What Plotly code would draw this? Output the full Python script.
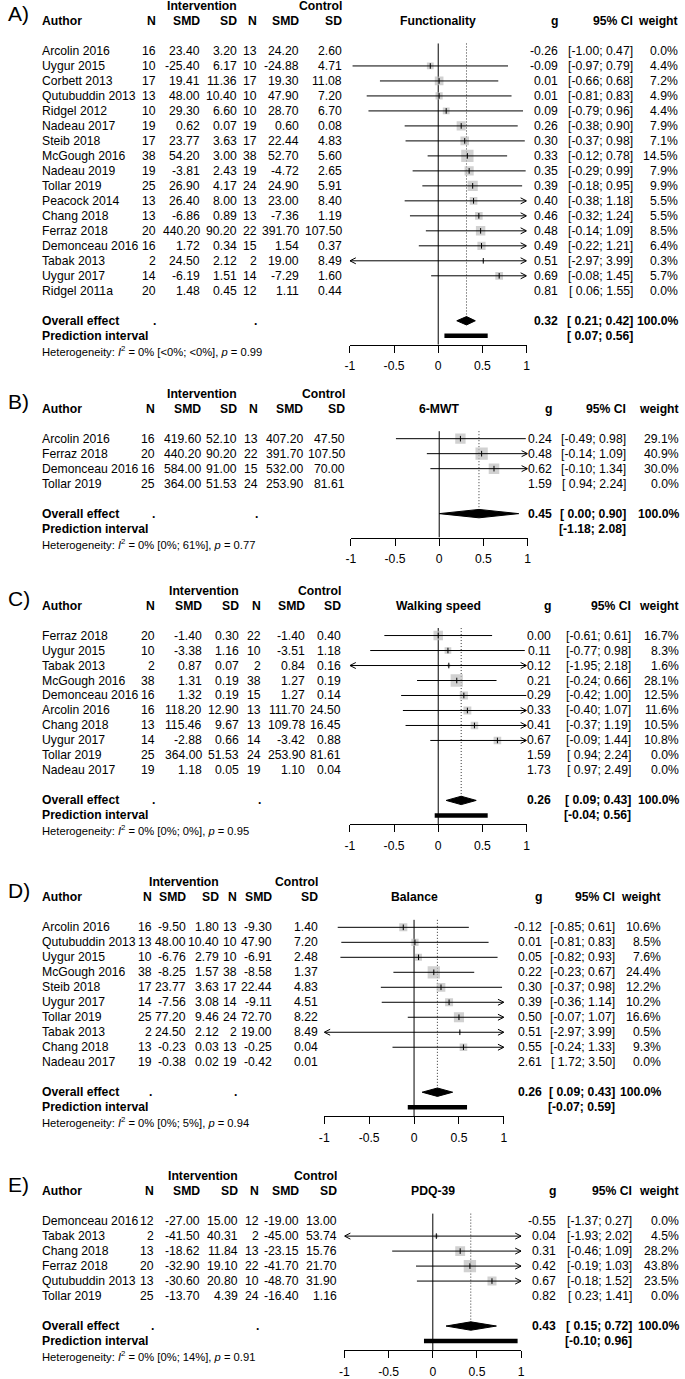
import plotly.graph_objects as go

W, H = 685, 1379
FONT = "Liberation Sans, Arial, Helvetica, sans-serif"
FS = 12.2

XMIN, XMAX = -1, 1
TICKS = [-1, -0.5, 0, 0.5, 1]
TICKTEXT = [f"{t:g}" for t in TICKS]

# ---------------- Panel A: Functionality ----------------
A_study = ["Arcolin 2016", "Uygur 2015", "Corbett 2013", "Qutubuddin 2013", "Ridgel 2012",
           "Nadeau 2017", "Steib 2018", "McGough 2016", "Nadeau 2019", "Tollar 2019",
           "Peacock 2014", "Chang 2018", "Ferraz 2018", "Demonceau 2016", "Tabak 2013",
           "Uygur 2017", "Ridgel 2011a"]
A_ne = [16, 10, 17, 13, 10, 19, 17, 38, 19, 25, 13, 13, 20, 16, 2, 14, 20]
A_me = [23.40, -25.40, 19.41, 48.00, 29.30, 0.62, 23.77, 54.20, -3.81, 26.90, 26.40, -6.86,
        440.20, 1.72, 24.50, -6.19, 1.48]
A_se = [3.20, 6.17, 11.36, 10.40, 6.60, 0.07, 3.63, 3.00, 2.43, 4.17, 8.00, 0.89, 90.20,
        0.34, 2.12, 1.51, 0.45]
A_nc = [13, 10, 17, 10, 10, 19, 17, 38, 19, 24, 13, 13, 22, 15, 2, 14, 12]
A_mc = [24.20, -24.88, 19.30, 47.90, 28.70, 0.60, 22.44, 52.70, -4.72, 24.90, 23.00, -7.36,
        391.70, 1.54, 19.00, -7.29, 1.11]
A_sc = [2.60, 4.71, 11.08, 7.20, 6.70, 0.08, 4.83, 5.60, 2.65, 5.91, 8.40, 1.19, 107.50,
        0.37, 8.49, 1.60, 0.44]
A_g = [-0.26, -0.09, 0.01, 0.01, 0.09, 0.26, 0.30, 0.33, 0.35, 0.39, 0.40, 0.46, 0.48, 0.49,
       0.51, 0.69, 0.81]
A_lo = [-1.00, -0.97, -0.66, -0.81, -0.79, -0.38, -0.37, -0.12, -0.29, -0.18, -0.38, -0.32,
        -0.14, -0.22, -2.97, -0.08, 0.06]
A_hi = [0.47, 0.79, 0.68, 0.83, 0.96, 0.90, 0.98, 0.78, 0.99, 0.95, 1.18, 1.24, 1.09, 1.21,
        3.99, 1.45, 1.55]
A_w = [0.0, 4.4, 7.2, 4.9, 4.4, 7.9, 7.1, 14.5, 7.9, 9.9, 5.5, 5.5, 8.5, 6.4, 0.3, 5.7, 0.0]
A_overall = [0.32, 0.21, 0.42]
A_pred = [0.07, 0.56]
A_het = ["&lt;0%", "&lt;0%", "0.99"]

# ---------------- Panel B: 6-MWT ----------------
B_study = ["Arcolin 2016", "Ferraz 2018", "Demonceau 2016", "Tollar 2019"]
B_ne = [16, 20, 16, 25]
B_me = [419.60, 440.20, 584.00, 364.00]
B_se = [52.10, 90.20, 91.00, 51.53]
B_nc = [13, 22, 15, 24]
B_mc = [407.20, 391.70, 532.00, 253.90]
B_sc = [47.50, 107.50, 70.00, 81.61]
B_g = [0.24, 0.48, 0.62, 1.59]
B_lo = [-0.49, -0.14, -0.10, 0.94]
B_hi = [0.98, 1.09, 1.34, 2.24]
B_w = [29.1, 40.9, 30.0, 0.0]
B_overall = [0.45, 0.00, 0.90]
B_pred = [-1.18, 2.08]
B_het = ["0%", "61%", "0.77"]

# ---------------- Panel C: Walking speed ----------------
C_study = ["Ferraz 2018", "Uygur 2015", "Tabak 2013", "McGough 2016", "Demonceau 2016",
           "Arcolin 2016", "Chang 2018", "Uygur 2017", "Tollar 2019", "Nadeau 2017"]
C_ne = [20, 10, 2, 38, 16, 16, 13, 14, 25, 19]
C_me = [-1.40, -3.38, 0.87, 1.31, 1.32, 118.20, 115.46, -2.88, 364.00, 1.18]
C_se = [0.30, 1.16, 0.07, 0.19, 0.19, 12.90, 9.67, 0.66, 51.53, 0.05]
C_nc = [22, 10, 2, 38, 15, 13, 13, 14, 24, 19]
C_mc = [-1.40, -3.51, 0.84, 1.27, 1.27, 111.70, 109.78, -3.42, 253.90, 1.10]
C_sc = [0.40, 1.18, 0.16, 0.19, 0.14, 24.50, 16.45, 0.88, 81.61, 0.04]
C_g = [0.00, 0.11, 0.12, 0.21, 0.29, 0.33, 0.41, 0.67, 1.59, 1.73]
C_lo = [-0.61, -0.77, -1.95, -0.24, -0.42, -0.40, -0.37, -0.09, 0.94, 0.97]
C_hi = [0.61, 0.98, 2.18, 0.66, 1.00, 1.07, 1.19, 1.44, 2.24, 2.49]
C_w = [16.7, 8.3, 1.6, 28.1, 12.5, 11.6, 10.5, 10.8, 0.0, 0.0]
C_overall = [0.26, 0.09, 0.43]
C_pred = [-0.04, 0.56]
C_het = ["0%", "0%", "0.95"]

# ---------------- Panel D: Balance ----------------
D_study = ["Arcolin 2016", "Qutubuddin 2013", "Uygur 2015", "McGough 2016", "Steib 2018",
           "Uygur 2017", "Tollar 2019", "Tabak 2013", "Chang 2018", "Nadeau 2017"]
D_ne = [16, 13, 10, 38, 17, 14, 25, 2, 13, 19]
D_me = [-9.50, 48.00, -6.76, -8.25, 23.77, -7.56, 77.20, 24.50, -0.23, -0.38]
D_se = [1.80, 10.40, 2.79, 1.57, 3.63, 3.08, 9.46, 2.12, 0.03, 0.02]
D_nc = [13, 10, 10, 38, 17, 14, 24, 2, 13, 19]
D_mc = [-9.30, 47.90, -6.91, -8.58, 22.44, -9.11, 72.70, 19.00, -0.25, -0.42]
D_sc = [1.40, 7.20, 2.48, 1.37, 4.83, 4.51, 8.22, 8.49, 0.04, 0.01]
D_g = [-0.12, 0.01, 0.05, 0.22, 0.30, 0.39, 0.50, 0.51, 0.55, 2.61]
D_lo = [-0.85, -0.81, -0.82, -0.23, -0.37, -0.36, -0.07, -2.97, -0.24, 1.72]
D_hi = [0.61, 0.83, 0.93, 0.67, 0.98, 1.14, 1.07, 3.99, 1.33, 3.50]
D_w = [10.6, 8.5, 7.6, 24.4, 12.2, 10.2, 16.6, 0.5, 9.3, 0.0]
D_overall = [0.26, 0.09, 0.43]
D_pred = [-0.07, 0.59]
D_het = ["0%", "5%", "0.94"]

# ---------------- Panel E: PDQ-39 ----------------
E_study = ["Demonceau 2016", "Tabak 2013", "Chang 2018", "Ferraz 2018", "Qutubuddin 2013",
           "Tollar 2019"]
E_ne = [12, 2, 13, 20, 13, 25]
E_me = [-27.00, -41.50, -18.62, -32.90, -30.60, -13.70]
E_se = [15.00, 40.31, 11.84, 19.10, 20.80, 4.39]
E_nc = [12, 2, 13, 22, 10, 24]
E_mc = [-19.00, -45.00, -23.15, -41.70, -48.70, -16.40]
E_sc = [13.00, 53.74, 15.76, 21.70, 31.90, 1.16]
E_g = [-0.55, 0.04, 0.31, 0.42, 0.67, 0.82]
E_lo = [-1.37, -1.93, -0.46, -0.19, -0.18, 0.23]
E_hi = [0.27, 2.02, 1.09, 1.03, 1.52, 1.41]
E_w = [0.0, 4.5, 28.2, 43.8, 23.5, 0.0]
E_overall = [0.43, 0.15, 0.72]
E_pred = [-0.10, 0.96]
E_het = ["0%", "14%", "0.91"]

LETTERS = ["A)", "B)", "C)", "D)", "E)"]
TITLES = ["Functionality", "6-MWT", "Walking speed", "Balance", "PDQ-39"]

DATA = [
    (A_study, A_ne, A_me, A_se, A_nc, A_mc, A_sc, A_g, A_lo, A_hi, A_w, A_overall, A_pred, A_het),
    (B_study, B_ne, B_me, B_se, B_nc, B_mc, B_sc, B_g, B_lo, B_hi, B_w, B_overall, B_pred, B_het),
    (C_study, C_ne, C_me, C_se, C_nc, C_mc, C_sc, C_g, C_lo, C_hi, C_w, C_overall, C_pred, C_het),
    (D_study, D_ne, D_me, D_se, D_nc, D_mc, D_sc, D_g, D_lo, D_hi, D_w, D_overall, D_pred, D_het),
    (E_study, E_ne, E_me, E_se, E_nc, E_mc, E_sc, E_g, E_lo, E_hi, E_w, E_overall, E_pred, E_het),
]

# ---------------- layout geometry (pixels) ----------------
GEOM = [
    dict(top=6, xlo=349.5, xhi=528.5, cols=[154, 199, 236, 256, 299, 343], g=561, ci=637, w=683,
         int_r=236, ctl_r=343),
    dict(top=394, xlo=350.5, xhi=529.5, cols=[153, 200, 236, 257, 303, 346], g=555, ci=630, w=684,
         int_r=236, ctl_r=346),
    dict(top=591, xlo=349.5, xhi=528.5, cols=[153, 201, 238, 260, 305, 341], g=554, ci=635, w=684,
         int_r=238, ctl_r=341),
    dict(top=883, xlo=323.5, xhi=505.5, cols=[150, 184, 218, 236, 272, 318], g=545, ci=619, w=666,
         int_r=218, ctl_r=318),
    dict(top=1177, xlo=344, xhi=523, cols=[152, 199, 237, 258, 299, 337], g=559, ci=636, w=684,
         int_r=237, ctl_r=337),
]
ROW = 15
LEFT = 36
MAXBOX = 12.3
ARROW_LEN_PX = 6
ARROW_HALF_PX = 3
HET_FS = 11.2


def X(px):
    return px / W


def Y(px):
    return 1 - px / H


def f2(v):
    return f"{v:.2f}"


def ci_txt(lo, hi):
    return f"[{lo:5.2f}; {hi:.2f}]"


fig = go.Figure()
ann = []


def text(x, y, s, anchor="left", size=FS, bold=False):
    if bold:
        s = f"<b>{s}</b>"
    ann.append(dict(x=X(x), y=Y(y), xref="paper", yref="paper", text=s, showarrow=False,
                    xanchor=anchor, yanchor="middle", borderpad=0,
                    font=dict(family=FONT, size=size, color="black")))


axes = {}
for i, (d, G) in enumerate(zip(DATA, GEOM)):
    study, ne, me, se, nc, mc, sc, g, lo, hi, w, ov, pred, het = d
    n = len(study)
    sfx = "" if i == 0 else str(i + 1)
    xn, yn = "x" + sfx, "y" + sfx
    top = G["top"]

    def ypx(k, top=top):
        return top + k * ROW

    k_axis = n + 5.6
    k_domtop = 2.3
    k_first = 3
    k_ov = n + 4
    k_pr = n + 5
    px_per_unit = (G["xhi"] - G["xlo"]) / (XMAX - XMIN)

    axes["xaxis" + sfx] = dict(
        domain=[X(G["xlo"]), X(G["xhi"])], range=[XMIN, XMAX], anchor=yn,
        showline=True, linecolor="black", linewidth=1, ticks="outside", ticklen=7,
        tickwidth=1, tickcolor="black", tickvals=TICKS, ticktext=TICKTEXT,
        tickfont=dict(family=FONT, size=FS, color="black"), showgrid=False, zeroline=False,
        fixedrange=True, ticklabelstandoff=3)
    axes["yaxis" + sfx] = dict(
        domain=[Y(ypx(k_axis)), Y(ypx(k_domtop))], range=[k_axis, k_domtop], visible=False,
        anchor=xn, showgrid=False, zeroline=False, fixedrange=True)

    rows = [k_first + j for j in range(n)]
    drawn = [j for j in range(n) if w[j] > 0]
    wmax = max(w)

    # reference lines
    fig.add_trace(go.Scatter(x=[0, 0], y=[k_first - 0.5, k_axis], mode="lines",
                             line=dict(color="black", width=1), xaxis=xn, yaxis=yn,
                             hoverinfo="skip"))
    fig.add_trace(go.Scatter(x=[ov[0], ov[0]], y=[k_first - 0.5, k_ov], mode="lines",
                             line=dict(color="#333333", width=1, dash="1px,2px"), xaxis=xn,
                             yaxis=yn, hoverinfo="skip"))
    # squares
    fig.add_trace(go.Scatter(
        x=[g[j] for j in drawn], y=[rows[j] for j in drawn], mode="markers",
        marker=dict(symbol="square", color="#BEBEBE",
                    size=[MAXBOX * (w[j] / wmax) ** 0.5 for j in drawn], line=dict(width=0)),
        xaxis=xn, yaxis=yn, hoverinfo="skip"))
    # CI lines + arrowheads for truncated intervals
    lx, ly = [], []
    aw = ARROW_LEN_PX / px_per_unit
    ah = ARROW_HALF_PX / ROW
    for j in drawn:
        k = rows[j]
        lx += [max(lo[j], XMIN), min(hi[j], XMAX), None]
        ly += [k, k, None]
        if hi[j] > XMAX:
            lx += [XMAX - aw, XMAX, XMAX - aw, None]
            ly += [k - ah, k, k + ah, None]
        if lo[j] < XMIN:
            lx += [XMIN + aw, XMIN, XMIN + aw, None]
            ly += [k - ah, k, k + ah, None]
    fig.add_trace(go.Scatter(x=lx, y=ly, mode="lines", line=dict(color="black", width=1),
                             xaxis=xn, yaxis=yn, hoverinfo="skip"))
    # point ticks
    fig.add_trace(go.Scatter(
        x=[g[j] for j in drawn], y=[rows[j] for j in drawn], mode="markers",
        marker=dict(symbol="line-ns", size=4, line=dict(color="black", width=1)),
        xaxis=xn, yaxis=yn, hoverinfo="skip"))
    # diamond
    dh = 0.28
    fig.add_trace(go.Scatter(x=[ov[1], ov[0], ov[2], ov[0], ov[1]],
                             y=[k_ov, k_ov - dh, k_ov, k_ov + dh, k_ov], mode="lines",
                             fill="toself", fillcolor="black", line=dict(color="black", width=1),
                             xaxis=xn, yaxis=yn, hoverinfo="skip"))
    # prediction interval
    if pred[0] >= XMIN and pred[1] <= XMAX:
        fig.add_trace(go.Scatter(x=[pred[0], pred[1]], y=[k_pr, k_pr], mode="lines",
                                 line=dict(color="black", width=4.5), xaxis=xn, yaxis=yn,
                                 hoverinfo="skip"))

    # ---------- text ----------
    c = G["cols"]
    text(2, ypx(0) + 8, LETTERS[i], size=21)
    text(G["int_r"], ypx(0), "Intervention", "right", bold=True)
    text(G["ctl_r"], ypx(0), "Control", "right", bold=True)
    text(LEFT, ypx(1), "Author", bold=True)
    for cx, lab in zip(c, ["N", "SMD", "SD", "N", "SMD", "SD"]):
        text(cx, ypx(1), lab, "right", bold=True)
    text((G["xlo"] + G["xhi"]) / 2, ypx(1), TITLES[i], "center", bold=True)
    text(G["g"], ypx(1), "g", "right", bold=True)
    text(G["ci"], ypx(1), "95% CI", "right", bold=True)
    text(G["w"], ypx(1), "weight", "right", bold=True)

    for j in range(n):
        yy = ypx(rows[j])
        text(LEFT, yy, study[j])
        vals = [str(ne[j]), f2(me[j]), f2(se[j]), str(nc[j]), f2(mc[j]), f2(sc[j])]
        for cx, v in zip(c, vals):
            text(cx, yy, v, "right")
        text(G["g"], yy, f2(g[j]), "right")
        text(G["ci"], yy, ci_txt(lo[j], hi[j]), "right")
        text(G["w"], yy, f"{w[j]:.1f}%", "right")

    yy = ypx(k_ov)
    text(LEFT, yy, "Overall effect", bold=True)
    text(c[0], yy, ".", "right", bold=True)
    text(c[3], yy, ".", "right", bold=True)
    text(G["g"], yy, f2(ov[0]), "right", bold=True)
    text(G["ci"], yy, ci_txt(ov[1], ov[2]), "right", bold=True)
    text(G["w"], yy, "100.0%", "right", bold=True)
    yy = ypx(k_pr)
    text(LEFT, yy, "Prediction interval", bold=True)
    text(G["ci"], yy, ci_txt(pred[0], pred[1]), "right", bold=True)
    text(LEFT, ypx(n + 6),
         f"Heterogeneity: <i>I</i><sup>2</sup> = 0% [{het[0]}; {het[1]}], <i>p</i> = {het[2]}",
         size=HET_FS)

fig.update_layout(width=W, height=H, margin=dict(l=0, r=0, t=0, b=0),
                  paper_bgcolor="white", plot_bgcolor="rgba(0,0,0,0)", showlegend=False,
                  annotations=ann, **axes)
fig.write_html("out.html", config={"displayModeBar": False, "staticPlot": True},
               post_script="document.body.style.margin='0px';")
